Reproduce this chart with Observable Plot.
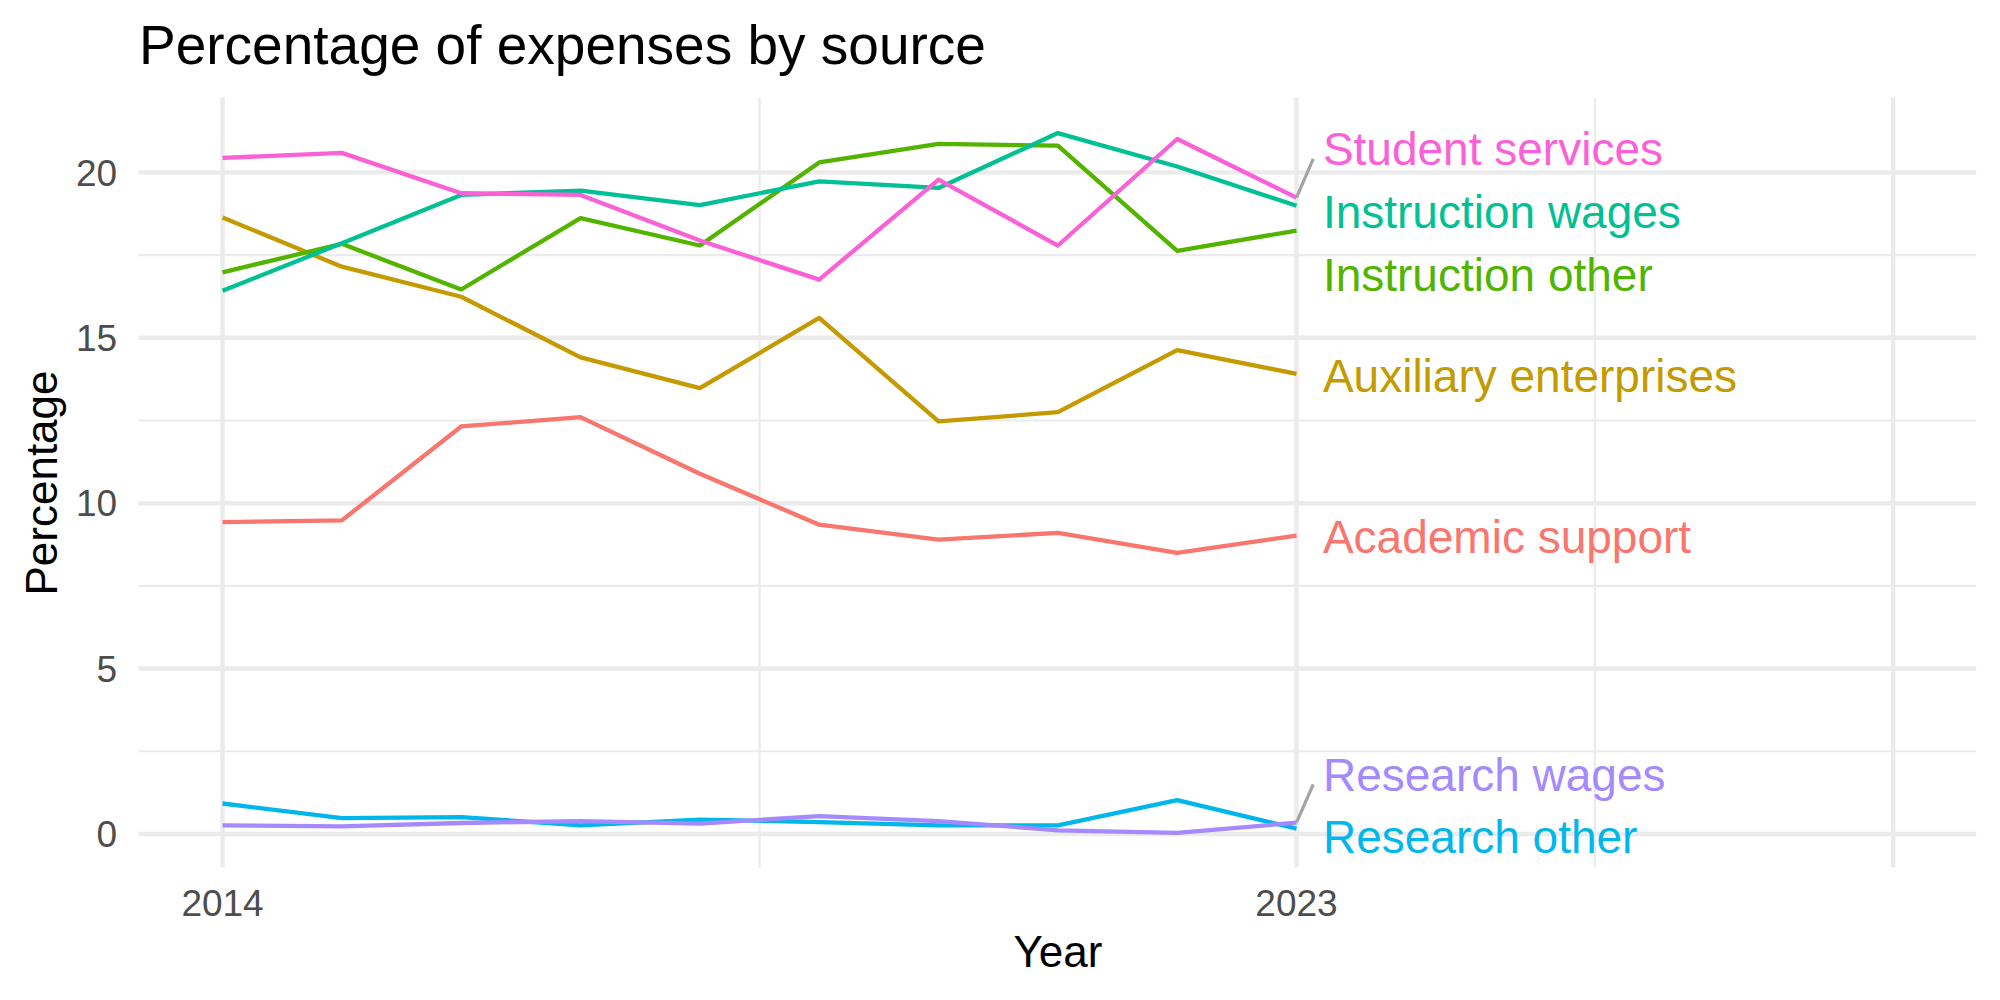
<!DOCTYPE html>
<html>
<head>
<meta charset="utf-8">
<script src="https://cdn.jsdelivr.net/npm/d3@7"></script>
<script src="https://cdn.jsdelivr.net/npm/@observablehq/plot@0.6"></script>
<style>
  html, body { margin: 0; padding: 0; background: #ffffff; }
  #chart { width: 2000px; height: 1000px; }
</style>
</head>
<body>
<div id="chart"></div>
<script>
// ---- data ----
const years = [2014, 2015, 2016, 2017, 2018, 2019, 2020, 2021, 2022, 2023];
const seriesNames = [
  "Academic support", "Auxiliary enterprises", "Instruction other",
  "Instruction wages", "Research other", "Research wages", "Student services"
];
const academicSupport      = [9.43, 9.48, 12.32, 12.60, 10.89, 9.35, 8.90, 9.10, 8.50, 9.02];
const auxiliaryEnterprises = [18.64, 17.15, 16.24, 14.41, 13.48, 15.60, 12.47, 12.75, 14.63, 13.91];
const instructionOther     = [16.98, 17.84, 16.46, 18.62, 17.79, 20.30, 20.86, 20.81, 17.63, 18.24];
const instructionWages     = [16.42, 17.86, 19.32, 19.45, 19.01, 19.73, 19.53, 21.19, 20.18, 18.99];
const researchOther        = [0.92, 0.48, 0.51, 0.26, 0.43, 0.36, 0.26, 0.26, 1.02, 0.16];
const researchWages        = [0.26, 0.23, 0.33, 0.39, 0.31, 0.54, 0.39, 0.11, 0.03, 0.34];
const studentServices      = [20.44, 20.59, 19.37, 19.32, 17.94, 16.76, 19.78, 17.79, 21.01, 19.24];
const seriesColors = ["#F8766D", "#C49A00", "#53B400", "#00C094", "#00B6EB", "#A58AFF", "#FB61D7"];

// repelled label positions (y, in data units) as placed in the reference
const labelY = [9.0, 13.86, 16.9, 18.81, -0.08, 1.80, 20.71];
// labels that were moved away from their line end get a connector
const connected = ["Research wages", "Student services"];

// axis ticks
const xTicks = [2014, 2023];
const xMajorGrid = [2014, 2023, 2028];
const xMinorGrid = [2018.5, 2025.5];
const yTicks = [0, 5, 10, 15, 20];
const yMinorGrid = [2.5, 7.5, 12.5, 17.5];

const title = "Percentage of expenses by source";
const xTitle = "Year";
const yTitle = "Percentage";

// ---- build tables ----
const valuesBySeries = [academicSupport, auxiliaryEnterprises, instructionOther,
  instructionWages, researchOther, researchWages, studentServices];
const rows = [];
seriesNames.forEach((s, i) => years.forEach((yr, j) => rows.push({series: s, year: yr, value: valuesBySeries[i][j]})));
const lastYear = years[years.length - 1];
const labels = seriesNames.map((s, i) => ({series: s, year: lastYear, y: labelY[i]}));
const links = labels.filter(d => connected.includes(d.series)).map(d => {
  const i = seriesNames.indexOf(d.series);
  const v = valuesBySeries[i];
  return {x1: lastYear, y1: v[v.length - 1], x2: lastYear + 0.14, y2: d.y - 0.3};
});

const grid = "#EBEBEB";
const chart = Plot.plot({
  width: 2000,
  height: 1000,
  marginLeft: 138.5,
  marginRight: 23.8,
  marginTop: 97.5,
  marginBottom: 132.5,
  style: {fontFamily: "'Liberation Sans', Arial, Helvetica, sans-serif", background: "#ffffff"},
  x: {domain: [2013.3, 2028.7], axis: null},
  y: {domain: [-1.03, 22.25], axis: null},
  color: {domain: seriesNames, range: seriesColors},
  marks: [
    Plot.gridY(yMinorGrid, {stroke: grid, strokeOpacity: 1, strokeWidth: 2.2}),
    Plot.gridX(xMinorGrid, {stroke: grid, strokeOpacity: 1, strokeWidth: 2.2}),
    Plot.gridY(yTicks, {stroke: grid, strokeOpacity: 1, strokeWidth: 4.4}),
    Plot.gridX(xMajorGrid, {stroke: grid, strokeOpacity: 1, strokeWidth: 4.4}),
    Plot.line(rows, {x: "year", y: "value", z: "series", stroke: "series", strokeWidth: 4.3, strokeLinecap: "butt", strokeLinejoin: "round"}),
    Plot.link(links, {x1: "x1", y1: "y1", x2: "x2", y2: "y2", stroke: "#A3A3A3", strokeWidth: 3.2, strokeLinecap: "butt"}),
    Plot.text(labels, {x: "year", y: "y", text: "series", fill: "series", textAnchor: "start", lineAnchor: "middle", dx: 26.4, dy: 1.7, fontSize: 46}),
    // tick labels
    Plot.text(xTicks, {x: d => d, text: d => String(d), frameAnchor: "bottom", textAnchor: "middle", lineAnchor: "bottom", dy: 48, fontSize: 37, fill: "#4D4D4D"}),
    Plot.text(yTicks, {y: d => d, text: d => String(d), frameAnchor: "left", textAnchor: "end", lineAnchor: "middle", dx: -21.8, dy: 1.4, fontSize: 37, fill: "#4D4D4D"}),
    // axis titles and title
    Plot.text([xTitle], {text: d => d, frameAnchor: "bottom", textAnchor: "middle", lineAnchor: "bottom", dy: 99, fontSize: 44, fill: "#000000"}),
    Plot.text([yTitle], {text: d => d, frameAnchor: "left", textAnchor: "middle", lineAnchor: "bottom", rotate: -90, dx: -82.5, fontSize: 44, fill: "#000000"}),
    Plot.text([title], {text: d => d, frameAnchor: "top-left", textAnchor: "start", lineAnchor: "bottom", dy: -34.5, fontSize: 55, fill: "#000000"})
  ]
});
document.getElementById("chart").appendChild(chart);
</script>
</body>
</html>
